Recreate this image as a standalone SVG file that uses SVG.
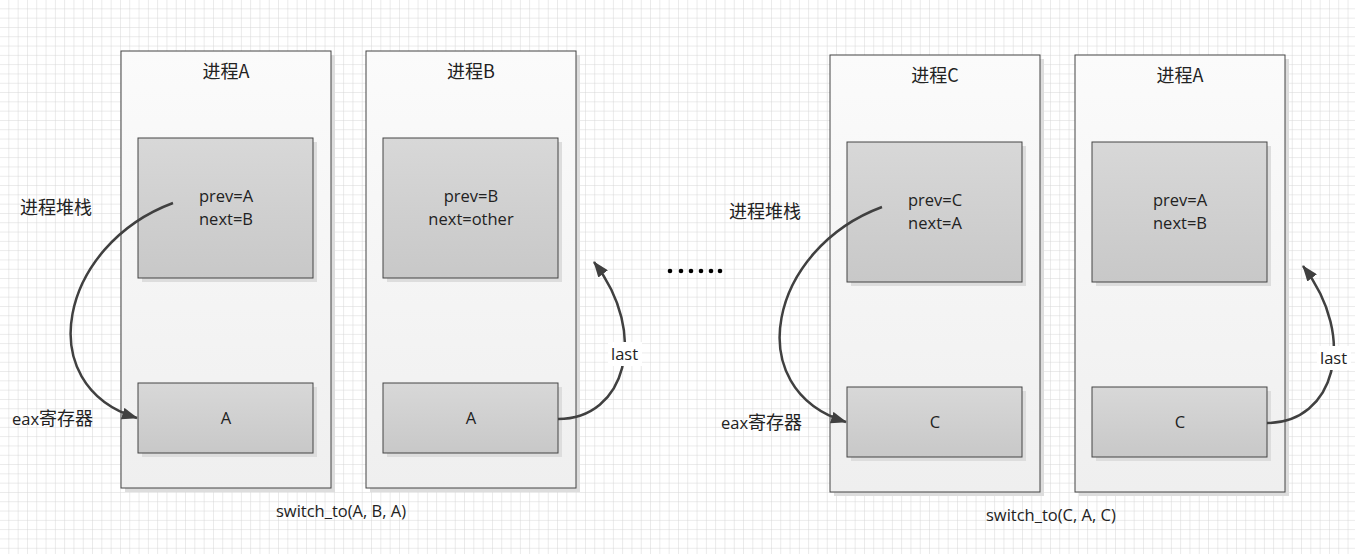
<svg xmlns="http://www.w3.org/2000/svg" width="1355" height="554" viewBox="0 0 1355 554">
<style>
text{font-family:"Open Sans","Noto Sans CJK SC",sans-serif;font-size:16.5px;fill:#222}
.cn{font-family:"Noto Sans CJK SC",sans-serif;font-size:18px}
.c{text-anchor:middle}
.panel{fill:url(#pg);stroke:#444;stroke-width:1}
.box{fill:url(#bg);stroke:#444;stroke-width:1}
.sh{fill:#ddd}
.arr{fill:none;stroke:#404040;stroke-width:2.5;marker-end:url(#ah)}
</style>
<defs>
<pattern id="grid" width="9.3" height="9.3" patternUnits="userSpaceOnUse"><path d="M9.3 0V9.3H0" fill="none" stroke="#d6d6d6" stroke-width="1"/></pattern>
<linearGradient id="pg" x1="0" y1="0" x2="0" y2="1"><stop offset="0" stop-color="#fbfbfb"/><stop offset="1" stop-color="#efefef"/></linearGradient>
<linearGradient id="bg" x1="0" y1="0" x2="0" y2="1"><stop offset="0" stop-color="#d8d8d8"/><stop offset="1" stop-color="#c8c8c8"/></linearGradient>
<marker id="ah" markerWidth="16" markerHeight="12" refX="15" refY="6" orient="auto" markerUnits="userSpaceOnUse"><path d="M0,0L16,6L0,12z" fill="#404040"/></marker>
</defs>
<rect width="1355" height="554" fill="#fff"/>
<rect width="1355" height="554" fill="url(#grid)"/>
<g id="procA1">
<rect class="sh" x="125" y="55" width="210" height="437"/>
<rect class="panel" x="121" y="51" width="210" height="437"/>
<text class="c cn" x="226" y="78">进程A</text>
<rect class="sh" x="142" y="142" width="175" height="140"/>
<rect class="box" x="138" y="138" width="175" height="140"/>
<text class="c" x="226" y="202">prev=A</text><text class="c" x="226" y="225">next=B</text>
<rect class="sh" x="142" y="387" width="175" height="70"/>
<rect class="box" x="138" y="383" width="175" height="70"/>
<text class="c" x="226" y="424">A</text>
</g>
<g id="procB">
<rect class="sh" x="370" y="55" width="210" height="437"/>
<rect class="panel" x="366" y="51" width="210" height="437"/>
<text class="c cn" x="471" y="78">进程B</text>
<rect class="sh" x="387" y="142" width="175" height="140"/>
<rect class="box" x="383" y="138" width="175" height="140"/>
<text class="c" x="471" y="202">prev=B</text><text class="c" x="471" y="225">next=other</text>
<rect class="sh" x="387" y="387" width="175" height="70"/>
<rect class="box" x="383" y="383" width="175" height="70"/>
<text class="c" x="471" y="424">A</text>
</g>
<g id="procC">
<rect class="sh" x="834" y="59" width="210" height="437"/>
<rect class="panel" x="830" y="55" width="210" height="437"/>
<text class="c cn" x="935" y="82">进程C</text>
<rect class="sh" x="851" y="146" width="175" height="140"/>
<rect class="box" x="847" y="142" width="175" height="140"/>
<text class="c" x="935" y="206">prev=C</text><text class="c" x="935" y="229">next=A</text>
<rect class="sh" x="851" y="391" width="175" height="70"/>
<rect class="box" x="847" y="387" width="175" height="70"/>
<text class="c" x="935" y="428">C</text>
</g>
<g id="procA2">
<rect class="sh" x="1079" y="59" width="210" height="437"/>
<rect class="panel" x="1075" y="55" width="210" height="437"/>
<text class="c cn" x="1180" y="82">进程A</text>
<rect class="sh" x="1096" y="146" width="175" height="140"/>
<rect class="box" x="1092" y="142" width="175" height="140"/>
<text class="c" x="1180" y="206">prev=A</text><text class="c" x="1180" y="229">next=B</text>
<rect class="sh" x="1096" y="391" width="175" height="70"/>
<rect class="box" x="1092" y="387" width="175" height="70"/>
<text class="c" x="1180" y="428">C</text>
</g>
<g id="connectors">
<path class="arr" d="M173,203 C60,245 30,385 137,418"/>
<path class="arr" d="M882,207 C769,249 739,389 846,422"/>
<path class="arr" d="M558,419 C625,419 650,335 594,262"/>
<path class="arr" d="M1267,423 C1334,423 1359,339 1303,266"/>
<rect x="608" y="342" width="34" height="24" fill="#fff"/>
<text x="611" y="360">last</text>
<rect x="1317" y="346" width="34" height="24" fill="#fff"/>
<text x="1320" y="364">last</text>
</g>
<g id="labels">
<text class="cn" x="20" y="214">进程堆栈</text>
<text x="12" y="425">eax<tspan class="cn">寄存器</tspan></text>
<text class="cn" x="729" y="218">进程堆栈</text>
<text x="721" y="429">eax<tspan class="cn">寄存器</tspan></text>
<text x="276" y="517">switch_to(A, B, A)</text>
<text x="986" y="521">switch_to(C, A, C)</text>
<g fill="#000"><circle cx="670" cy="271" r="2.3"/><circle cx="681" cy="271" r="2.3"/><circle cx="691" cy="271" r="2.3"/><circle cx="701" cy="271" r="2.3"/><circle cx="711" cy="271" r="2.3"/><circle cx="720" cy="271" r="2.3"/></g>
</g>
</svg>
